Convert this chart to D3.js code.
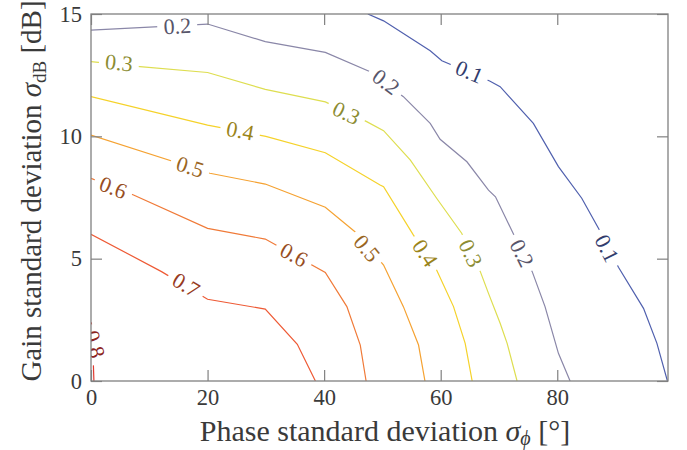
<!DOCTYPE html>
<html>
<head>
<meta charset="utf-8">
<script src="https://cdn.jsdelivr.net/npm/d3@7"></script>
<style>
  body { margin: 0; background: #fff; }
  text { font-family: "Liberation Serif", "DejaVu Serif", serif; }
</style>
</head>
<body>
<svg id="chart"></svg>
<script>
// axis extents and ticks
const xMax = 99;
const yMax = 15;
const xTicks = [0, 20, 40, 60, 80];
const yTicks = [0, 5, 10, 15];

// contour lines, [phase deg, gain dB]
const contour01 = [[47.5, 15], [50.2, 14.72], [58.2, 13.5], [60.2, 13.09], [68.4, 12.26], [70.2, 12.03], [75.9, 10.53], [80.2, 8.76], [84.2, 7.47], [87.4, 6.1], [90.5, 4.65], [94.8, 2.97], [97.1, 1.54], [98.9, 0]];
const contour02 = [[0, 14.34], [20, 14.59], [29.9, 13.87], [40.2, 13.43], [47.9, 12.64], [53.6, 11.62], [58.2, 10.53], [59.9, 9.88], [64.5, 8.96], [68.2, 7.8], [69.4, 7.53], [72.4, 6.05], [75.7, 4.47], [77.9, 3.04], [80.2, 1.13], [82.2, 0]];
const contour03 = [[0, 13.05], [8.4, 12.85], [20, 12.61], [29.9, 11.92], [40.2, 11.41], [47.3, 10.6], [50.2, 10.23], [54.8, 9.03], [59.3, 7.47], [63.6, 6.04], [66.8, 4.47], [68.2, 3.58], [70.2, 2.36], [71.4, 1.54], [73.1, 0]];
const contour04 = [[0, 11.62], [20, 10.46], [30, 10.0], [40.2, 9.33], [49.6, 8.01], [50.2, 7.94], [55.3, 5.97], [59.3, 4.54], [62.2, 3.04], [64.2, 1.54], [65.4, 0]];
const contour05 = [[0, 10.05], [20.4, 8.49], [29.9, 8.05], [40.2, 7.1], [45.6, 6.04], [50.2, 4.74], [53.6, 3.04], [56.2, 1.47], [57.3, 0]];
const contour06 = [[0, 8.28], [7.3, 7.6], [20, 6.24], [29.9, 5.8], [40.2, 4.44], [43.9, 3.04], [46.2, 1.47], [47.2, 0]];
const contour07 = [[0, 6.0], [12.1, 4.47], [20, 3.34], [29.9, 2.94], [35.4, 1.5], [38.5, 0]];
const contour08 = [[0, 2.4], [1.6, 1.0], [0.4, 0.72], [0.5, 0]];

const levels = [0.1, 0.2, 0.3, 0.4, 0.5, 0.6, 0.7, 0.8];
const contourLines = [contour01, contour02, contour03, contour04, contour05, contour06, contour07, contour08];

// where the level labels sit: [level, phase, gain]
const labelSpots = [
  [0.1, 64.9, 12.63], [0.1, 88.5, 5.42],
  [0.2, 14.8, 14.5], [0.2, 50.6, 12.22], [0.2, 73.9, 5.22],
  [0.3, 4.8, 13.0], [0.3, 43.8, 10.95], [0.3, 65.1, 5.22],
  [0.4, 25.6, 10.22], [0.4, 57.3, 5.22],
  [0.5, 17, 8.75], [0.5, 47.3, 5.42],
  [0.6, 3.8, 7.9], [0.6, 34.8, 5.15],
  [0.7, 16.3, 3.92],
  [0.8, 0.6, 1.5]
];

const levelColors = ["#5060ae", "#8a87a8", "#dede50", "#f5d22a", "#f5a232", "#f07a38", "#ee5a35", "#e03a30"];

const W = 687, H = 450;
const margin = { top: 14, right: 19, bottom: 69, left: 91 };
const width = W - margin.left - margin.right;
const height = H - margin.top - margin.bottom;
const tickLen = 11;
const textColor = "#3a3a3a";
const frameColor = "#808080";

const svg = d3.select("#chart").attr("width", W).attr("height", H);

const x = d3.scaleLinear().domain([0, xMax]).range([0, width]);
const y = d3.scaleLinear().domain([0, yMax]).range([height, 0]);
const color = d3.scaleOrdinal().domain(levels).range(levelColors);

const g = svg.append("g").attr("transform", `translate(${margin.left},${margin.top})`);

g.append("clipPath").attr("id", "plot-clip")
  .append("rect").attr("width", width).attr("height", height);

const plot = g.append("g").attr("clip-path", "url(#plot-clip)");

const line = d3.line().x(d => x(d[0])).y(d => y(d[1]));

plot.selectAll("path.contour")
  .data(contourLines)
  .join("path")
  .attr("class", "contour")
  .attr("d", line)
  .attr("fill", "none")
  .attr("stroke", (d, i) => color(levels[i]))
  .attr("stroke-width", 1.2);

// angle of the contour near a label, in screen space
function labelAngle(pts, px, py) {
  let best = Infinity, ang = 0;
  for (let i = 0; i < pts.length - 1; i++) {
    const ax = x(pts[i][0]), ay = y(pts[i][1]);
    const bx = x(pts[i + 1][0]), by = y(pts[i + 1][1]);
    const dx = bx - ax, dy = by - ay;
    const len2 = dx * dx + dy * dy;
    let t = ((px - ax) * dx + (py - ay) * dy) / len2;
    t = Math.max(0, Math.min(1, t));
    const cx = ax + t * dx, cy = ay + t * dy;
    const dist = (px - cx) ** 2 + (py - cy) ** 2;
    if (dist < best) {
      best = dist;
      ang = Math.atan2(dy, dx) * 180 / Math.PI;
    }
  }
  if (ang > 90) ang -= 180;
  if (ang < -90) ang += 180;
  return ang;
}

const labels = plot.selectAll("g.clabel")
  .data(labelSpots)
  .join("g")
  .attr("class", "clabel")
  .attr("transform", d => {
    const px = x(d[1]), py = y(d[2]);
    const a = labelAngle(contourLines[levels.indexOf(d[0])], px, py);
    return `translate(${px},${py}) rotate(${a})`;
  });

labels.append("rect")
  .attr("x", -20).attr("y", -9)
  .attr("width", 40).attr("height", 18)
  .attr("fill", "#fff");

labels.append("text")
  .attr("text-anchor", "middle")
  .attr("dy", "0.33em")
  .attr("font-size", 22)
  .attr("fill", d => d3.color(color(d[0])).darker(1.3))
  .text(d => d[0].toFixed(1));

// axes with inward ticks on all four sides
function styleAxis(sel) {
  sel.select(".domain").remove();
  sel.selectAll(".tick line").attr("stroke", frameColor).attr("stroke-width", 1.2);
  sel.selectAll(".tick text").attr("fill", textColor).attr("font-size", 22.5)
    .attr("font-family", "Liberation Serif, serif");
}

g.append("g")
  .attr("transform", `translate(0,${height})`)
  .call(d3.axisBottom(x).tickValues(xTicks).tickSizeInner(-tickLen).tickSizeOuter(0).tickPadding(8))
  .call(styleAxis);

g.append("g")
  .call(d3.axisTop(x).tickValues(xTicks).tickSizeInner(-tickLen).tickSizeOuter(0).tickFormat(""))
  .call(styleAxis);

g.append("g")
  .call(d3.axisLeft(y).tickValues(yTicks).tickSizeInner(-tickLen).tickSizeOuter(0).tickPadding(9))
  .call(styleAxis);

g.append("g")
  .attr("transform", `translate(${width},0)`)
  .call(d3.axisRight(y).tickValues(yTicks).tickSizeInner(-tickLen).tickSizeOuter(0).tickFormat(""))
  .call(styleAxis);

g.append("rect")
  .attr("width", width).attr("height", height)
  .attr("fill", "none")
  .attr("stroke", frameColor)
  .attr("stroke-width", 1.3);

// axis titles
const xTitle = svg.append("text")
  .attr("x", 385)
  .attr("y", 441)
  .attr("text-anchor", "middle")
  .attr("font-size", 30)
  .attr("fill", textColor);
xTitle.append("tspan").text("Phase standard deviation ");
xTitle.append("tspan").attr("font-style", "italic").text("σ");
xTitle.append("tspan").attr("font-style", "italic").attr("font-size", 20).attr("dy", 4).text("ϕ");
xTitle.append("tspan").attr("dy", -4).text(" [°]");

const yTitle = svg.append("text")
  .attr("transform", `translate(41,191) rotate(-90)`)
  .attr("text-anchor", "middle")
  .attr("font-size", 29)
  .attr("fill", textColor);
yTitle.append("tspan").text("Gain standard deviation ");
yTitle.append("tspan").attr("font-style", "italic").text("σ");
yTitle.append("tspan").attr("font-size", 19).attr("dy", 5).text("dB");
yTitle.append("tspan").attr("dy", -5).text(" [dB]");
</script>
</body>
</html>
